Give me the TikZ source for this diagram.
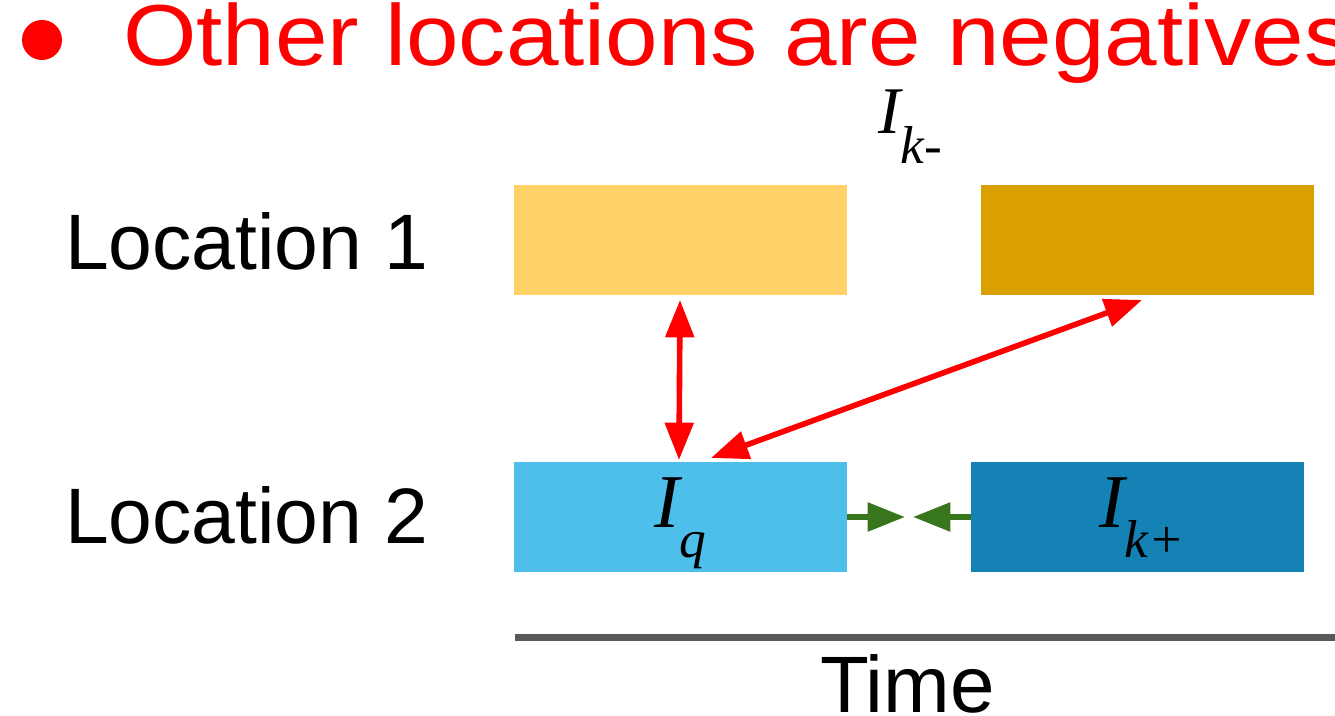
\documentclass[tikz,border=0pt]{standalone}
\usepackage{fontspec}
\setmainfont{Liberation Sans}
\newfontfamily\headfont[FakeStretch=1.09]{Liberation Sans}
\newfontfamily\varfont{Liberation Serif}
\usepackage{tikz}
\usetikzlibrary{arrows.meta, positioning, calc}
\definecolor{slotyellow}{HTML}{FFD166}
\definecolor{slotgold}{HTML}{DAA000}
\definecolor{slotsky}{HTML}{4EBEEB}
\definecolor{slotblue}{HTML}{1482B4}
\definecolor{pairgreen}{HTML}{38761D}
\definecolor{axisgray}{HTML}{595959}

\begin{document}
\begin{tikzpicture}[
  x=0.75pt, y=-0.75pt,
  every node/.style={inner sep=0pt, outer sep=0pt},
  slot/.style={fill=#1, minimum width=249.75pt, minimum height=82.5pt},
  rowlbl/.style={anchor=base west, font=\fontsize{59}{64}\selectfont},
  varlbl/.style={anchor=base, font=\varfont\itshape\fontsize{57}{60}\selectfont},
  rarr/.style={{Triangle[length=28pt,width=21pt]}-{Triangle[length=28pt,width=21pt]},
               draw=red, line width=4.2pt},
  garr/.style={-{Triangle[length=28pt,width=21pt]}, draw=pairgreen, line width=4.2pt},
]
\useasboundingbox (0,0) rectangle (1335,716);

%% Heading
\node[circle, fill=red, minimum size=30pt] (dot) at (42,40) {};
\node[anchor=base west, text=red, font=\headfont\fontsize{65}{70}\selectfont] (head) at (123,66)
  {Other locations are negatives};

%% Rows
\node[rowlbl] (loc1) at (65,270) {Location 1};
\node[rowlbl] (loc2) at (65,543) {Location 2};

%% Slots
\node[slot=slotyellow] (box1) at (680.5,240) {};
\node[slot=slotgold]   (box2) at (1147.5,240) {};
\node[slot=slotsky]    (box3) at (680.5,517) {};
\node[slot=slotblue]   (box4) at (1137.5,517) {};

\node[varlbl] (lblq)  at ($(box3.center)+(0,10)$)
  {I\raisebox{-22.5pt}{\fontsize{40}{40}\selectfont q}};
\node[varlbl] (lblkp) at ($(box4.center)+(4,10)$)
  {I\raisebox{-22.5pt}{\fontsize{40}{40}\selectfont k+}};
\node[varlbl, font=\varfont\itshape\fontsize{50}{54}\selectfont] (lblkm) at (910,134)
  {I\raisebox{-22.5pt}{\fontsize{40}{40}\selectfont k-}};

%% Arrows: negatives
\draw[rarr] ($(box1.south west)+(166,5)$) -- ($(box3.north west)+(165,-2)$);
\draw[rarr] ($(box3.north west)+(197,-4)$) -- ($(box2.south west)+(161,5)$);

%% Arrows: positive pair
\coordinate (gap) at ($(box3.east)!0.5!(box4.west)$);
\draw[garr] (box3.east) -- ($(gap)+(-4,0)$);
\draw[garr] (box4.west) -- ($(gap)+(4,0)$);

%% Time axis
\coordinate (t0) at (515,637);
\coordinate (t1) at (1335,637);
\draw[axisgray, line width=5.25pt] (t0) -- (t1);
\node[anchor=base west, font=\fontsize{60}{64}\selectfont] (time) at (820,712) {Time};

\end{tikzpicture}
\end{document}
